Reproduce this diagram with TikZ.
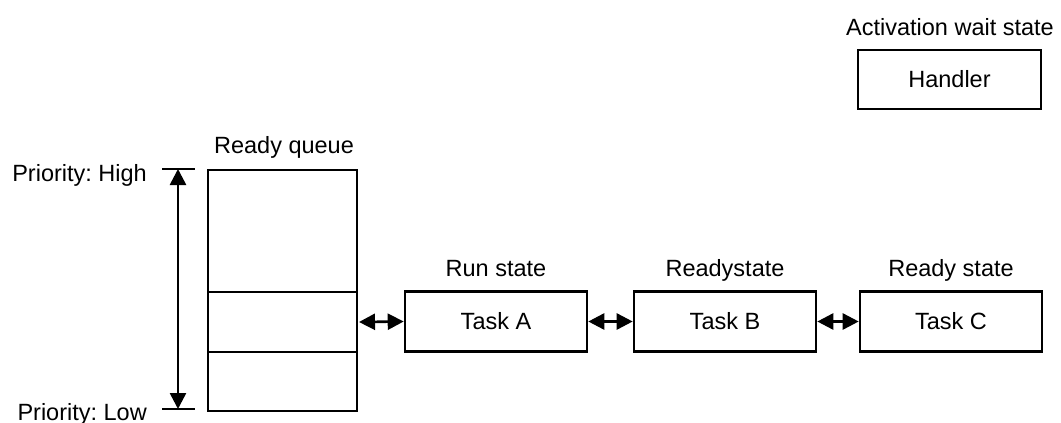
\documentclass[tikz,border=0pt]{standalone}
\usepackage{fontspec}
\setmainfont{Liberation Sans}
\usetikzlibrary{arrows.meta}
\frenchspacing
\begin{document}
\begin{tikzpicture}[x=1pt,y=-1pt,
  every node/.style={font=\fontsize{23.5}{26}\selectfont},
  thick line/.style={line width=2.6pt},
  box/.style={draw,thick line,minimum width=182pt,minimum height=60pt,inner sep=0pt},
  link/.style={thick line,{Triangle[length=16pt,width=16pt]}-{Triangle[length=16pt,width=16pt]}},
  lbl/.style={inner sep=0pt,anchor=base}]
\useasboundingbox (0,0) rectangle (1061,423);
% ready queue column
\draw[thick line] (208,170) rectangle (357,411);
\draw[thick line] (208,292) -- (357,292) (208,352) -- (357,352);
\coordinate (q) at (357,322);
\node[lbl] at (284,153) {Ready queue};
% priority scale
\coordinate (hi) at (178,169);
\coordinate (lo) at (178,409);
\draw[thick line] (162,169) -- (195,169) (162,409) -- (195,409);
\draw[link] (hi) -- (lo);
\node[lbl,anchor=base east] at (147,181) {Priority: High};
\node[lbl,anchor=base east] at (147,420) {Priority: Low};
% tasks
\node[box] (ta) at (496,321.5) {Task A};
\node[box] (tb) at (725,321.5) {Task B};
\node[box] (tc) at (951,321.5) {Task C};
\node[lbl] at (496,276) {Run state};
\node[lbl] at (725,276) {Readystate};
\node[lbl] at (951,276) {Ready state};
\draw[link] ([xshift=2pt]q) -- (ta.west);
\draw[link] (ta.east) -- (tb.west);
\draw[link] (tb.east) -- (tc.west);
% handler
\node[box,minimum width=183pt,minimum height=59pt] (h) at (949.5,79.5) {Handler};
\node[lbl] at (950,35) {Activation wait state};
\end{tikzpicture}
\end{document}
